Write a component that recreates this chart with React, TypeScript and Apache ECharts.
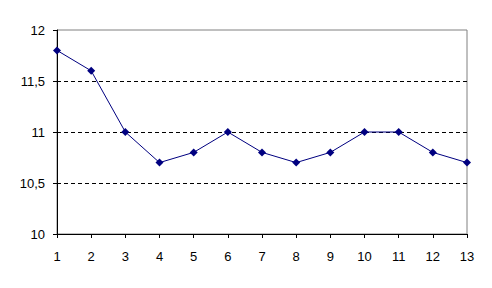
import React, { useEffect, useRef } from "react";
import * as echarts from "echarts";

const xValues = [1, 2, 3, 4, 5, 6, 7, 8, 9, 10, 11, 12, 13];
const yValues = [11.8, 11.6, 11.0, 10.7, 10.8, 11.0, 10.8, 10.7, 10.8, 11.0, 11.0, 10.8, 10.7];

export default function App() {
  const ref = useRef<HTMLDivElement>(null);
  useEffect(() => {
    if (!ref.current) return;
    const chart = echarts.init(ref.current, null, { renderer: "svg" });
    chart.setOption({
      animation: false,
      backgroundColor: "#ffffff",
      grid: {
        left: 57,
        right: 25,
        top: 30,
        bottom: 54,
        show: true,
        borderColor: "#808080",
        borderWidth: 1,
        backgroundColor: "transparent",
      },
      xAxis: {
        type: "value",
        min: 1,
        max: 13,
        interval: 1,
        axisLine: { show: true, lineStyle: { color: "#000", width: 1 } },
        axisTick: { show: true, inside: false, length: 4, lineStyle: { color: "#000", width: 1 } },
        axisLabel: { color: "#000", fontFamily: "Liberation Sans, Arial", fontSize: 13, margin: 16 },
        splitLine: { show: false },
      },
      yAxis: {
        type: "value",
        min: 10,
        max: 12,
        interval: 0.5,
        axisLine: { show: true, lineStyle: { color: "#000", width: 1 } },
        axisTick: { show: true, inside: false, length: 4, lineStyle: { color: "#000", width: 1 } },
        axisLabel: {
          color: "#000",
          fontFamily: "Liberation Sans, Arial",
          fontSize: 13,
          margin: 12,
          formatter: (v: number) => String(v).replace(".", ","),
        },
        splitLine: {
          show: true,
          lineStyle: {
            color: ["#000", "#000", "#000", "#000", "rgba(0,0,0,0)"],
            type: [4, 3],
            width: 1,
          },
        },
      },
      series: [
        {
          type: "line",
          data: xValues.map((x, i) => [x, yValues[i]]),
          symbol: "diamond",
          symbolSize: 8,
          showSymbol: true,
          lineStyle: { color: "#000080", width: 1 },
          itemStyle: { color: "#000080" },
        },
      ],
    });
    return () => chart.dispose();
  }, []);
  return <div ref={ref} style={{ width: 492, height: 288, position: "absolute", left: 0, top: 0 }} />;
}
